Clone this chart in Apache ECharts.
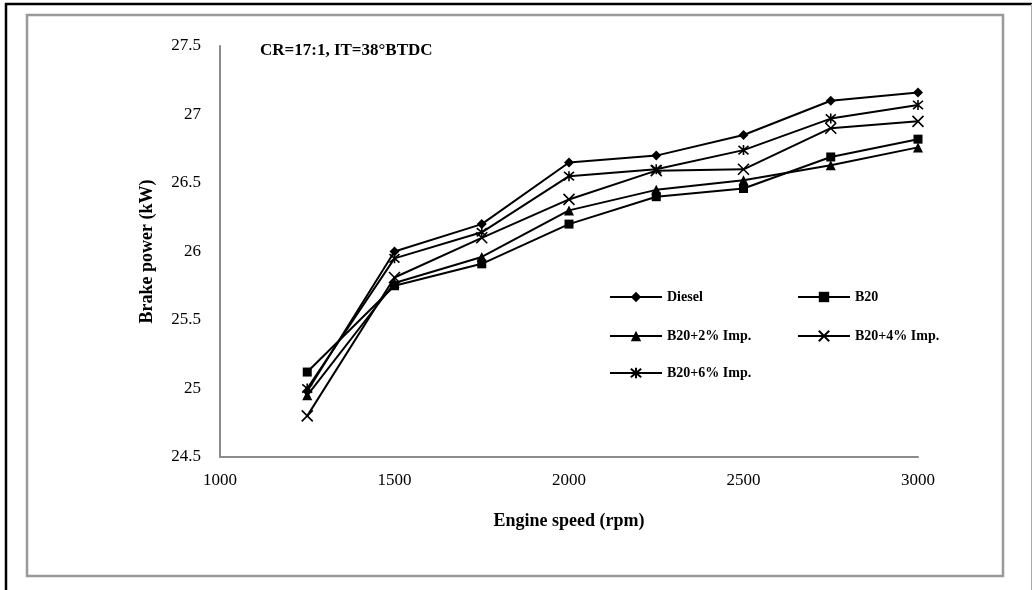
<!DOCTYPE html>
<html>
<head>
<meta charset="utf-8">
<script src="https://cdn.jsdelivr.net/npm/echarts@6/dist/echarts.min.js"></script>
<style>
html,body{margin:0;padding:0;background:#fff;}
#chart{width:1032px;height:590px;}
</style>
</head>
<body>
<div id="chart"></div>
<script>
var speeds = [1250, 1500, 1750, 2000, 2250, 2500, 2750, 3000];
var seriesNames = ['Diesel', 'B20', 'B20+2% Imp.', 'B20+4% Imp.', 'B20+6% Imp.'];
var diesel = [24.98, 26.00, 26.20, 26.65, 26.70, 26.85, 27.10, 27.16];
var b20    = [25.12, 25.75, 25.91, 26.20, 26.40, 26.46, 26.69, 26.82];
var b20imp2 = [24.95, 25.77, 25.96, 26.30, 26.45, 26.52, 26.63, 26.76];
var b20imp4 = [24.80, 25.81, 26.10, 26.38, 26.59, 26.60, 26.90, 26.95];
var b20imp6 = [25.00, 25.95, 26.14, 26.55, 26.60, 26.74, 26.97, 27.07];
var yTicks = {min: 24.5, max: 27.5, interval: 0.5};
var xTicks = {min: 1000, max: 3000, interval: 500};
var titleText = 'CR=17:1, IT=38°BTDC';

var FONT = '"Liberation Serif", "Times New Roman", serif';
var symX = 'path://M0,0 L10,10 M10,0 L0,10';
var symAst = 'path://M0,0 L10,10 M10,0 L0,10 M5,-1 L5,11';

function pairs(vals){ return speeds.map(function(s,i){ return [s, vals[i]]; }); }

var styles = [
  {data: diesel, symbol: 'diamond', size: 10, border: 0},
  {data: b20, symbol: 'rect', size: 9, border: 0},
  {data: b20imp2, symbol: 'triangle', size: 10, border: 0},
  {data: b20imp4, symbol: symX, size: 11, border: 1.6},
  {data: b20imp6, symbol: symAst, size: 10, border: 1.6}
];

var series = styles.map(function(st, i){
  return {
    name: seriesNames[i],
    type: 'line',
    data: pairs(st.data),
    symbol: st.symbol,
    symbolSize: st.size,
    showAllSymbol: true,
    lineStyle: {color: '#000', width: 2},
    itemStyle: {color: '#000', borderColor: '#000', borderWidth: st.border},
    emphasis: {disabled: true},
    animation: false,
    z: 3
  };
});

var legendPos = [[604, 285], [792, 285], [604, 324], [792, 324], [604, 361]];
var legends = seriesNames.map(function(n, i){
  return {
    data: [n],
    left: legendPos[i][0],
    top: legendPos[i][1],
    itemWidth: 52,
    itemHeight: 13,
    itemGap: 4,
    selectedMode: false,
    textStyle: {fontFamily: FONT, fontWeight: 'bold', fontSize: 14, color: '#000', padding: [0,0,0,0]}
  };
});

var chart = echarts.init(document.getElementById('chart'), null, {renderer: 'canvas'});
chart.setOption({
  backgroundColor: '#fff',
  animation: false,
  title: {
    text: titleText,
    left: 255,
    top: 37,
    textStyle: {fontFamily: FONT, fontWeight: 'bold', fontSize: 17, color: '#000'}
  },
  legend: legends,
  grid: {left: 220, right: 114, top: 46, bottom: 133, containLabel: false},
  xAxis: {
    type: 'value',
    min: xTicks.min, max: xTicks.max, interval: xTicks.interval,
    name: 'Engine speed (rpm)',
    nameLocation: 'middle',
    nameGap: 55,
    nameTextStyle: {fontFamily: FONT, fontWeight: 'bold', fontSize: 18, color: '#000'},
    axisLine: {show: true, lineStyle: {color: '#8c8c8c', width: 2}},
    axisTick: {show: false},
    splitLine: {show: false},
    axisLabel: {fontFamily: FONT, fontSize: 17, color: '#000', margin: 15,
      formatter: function(v){ return String(v); }}
  },
  yAxis: {
    type: 'value',
    min: yTicks.min, max: yTicks.max, interval: yTicks.interval,
    name: 'Brake power (kW)',
    nameLocation: 'middle',
    nameGap: 64,
    nameRotate: 90,
    nameTextStyle: {fontFamily: FONT, fontWeight: 'bold', fontSize: 18, color: '#000'},
    axisLine: {show: true, lineStyle: {color: '#8c8c8c', width: 2}},
    axisTick: {show: false},
    splitLine: {show: false},
    axisLabel: {fontFamily: FONT, fontSize: 17, color: '#000', margin: 19}
  },
  graphic: [
    {type: 'rect', shape: {x: 6, y: 4, width: 1040, height: 600}, style: {fill: 'none', stroke: '#000', lineWidth: 2.5}, silent: true, z: 0},
    {type: 'line', shape: {x1: 1031.5, y1: 4, x2: 1031.5, y2: 590}, style: {stroke: '#aaa', lineWidth: 1}, silent: true, z: 0},
    {type: 'rect', shape: {x: 27, y: 15, width: 976, height: 561}, style: {fill: 'none', stroke: '#999', lineWidth: 2.5}, silent: true, z: 0}
  ],
  series: series
});
</script>
</body>
</html>
